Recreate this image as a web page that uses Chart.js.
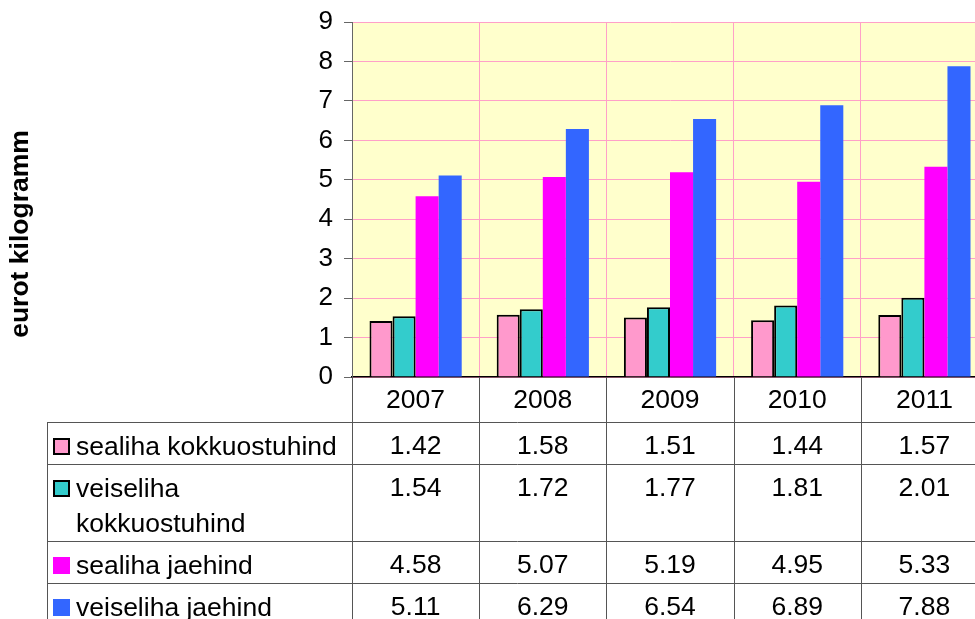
<!DOCTYPE html>
<html>
<head>
<meta charset="utf-8">
<script src="https://cdn.jsdelivr.net/npm/chart.js@4.4.1/dist/chart.umd.min.js"></script>
<style>
  html, body { margin: 0; padding: 0; background: #fff; overflow: hidden; }
  #wrap { width: 990px; height: 619px; }
</style>
</head>
<body>
<div id="wrap"><canvas id="c" width="990" height="619"></canvas></div>
<script>
// chart data
const years = ['2007', '2008', '2009', '2010', '2011'];
const seaOst = [1.42, 1.58, 1.51, 1.44, 1.57];
const veiseOst = [1.54, 1.72, 1.77, 1.81, 2.01];
const seaJae = [4.58, 5.07, 5.19, 4.95, 5.33];
const veiseJae = [5.11, 6.29, 6.54, 6.89, 7.88];
const seriesNames = ['sealiha kokkuostuhind', 'veiseliha kokkuostuhind', 'sealiha jaehind', 'veiseliha jaehind'];
const yTitle = 'eurot kilogramm';

const FONT = '"Liberation Sans", Arial, sans-serif';
const PINK_GRID = '#FFA0C8';
const LINE = '#555555';

function wrapText(ctx, text, maxW) {
    const words = text.split(' ');
    const lines = [];
    let cur = '';
    words.forEach(w => {
        const test = cur ? cur + ' ' + w : w;
        if (cur && ctx.measureText(test).width > maxW) {
            lines.push(cur);
            cur = w;
        } else {
            cur = test;
        }
    });
    if (cur) lines.push(cur);
    return lines;
}

// plot background + data table + axis title
const tablePlugin = {
    id: 'dataTable',
    beforeDraw(chart) {
        const a = chart.chartArea;
        const ctx = chart.ctx;
        ctx.save();
        ctx.fillStyle = '#FFFFCC';
        ctx.fillRect(a.left, a.top, a.right - a.left, a.bottom - a.top);
        ctx.restore();
    },
    afterDraw(chart) {
        const ctx = chart.ctx;
        const x = chart.scales.x;
        const a = chart.chartArea;
        const n = chart.data.labels.length;
        const colW = (a.right - a.left) / n;
        const tableLeft = 47;
        const headTop = a.bottom;
        const headBottom = headTop + 45;

        ctx.save();
        ctx.font = '26.5px ' + FONT;
        ctx.fillStyle = '#000';

        // header row with years
        ctx.textAlign = 'center';
        ctx.textBaseline = 'alphabetic';
        chart.data.labels.forEach((lab, i) => {
            ctx.fillText(lab, x.getPixelForValue(i), headTop + 31);
        });

        // rows
        let top = headBottom;
        const rowTops = [top];
        chart.data.datasets.forEach(ds => {
            ctx.textAlign = 'left';
            const lines = wrapText(ctx, ds.label, a.left - 76 - 4);
            const h = 33 + (lines.length - 1) * 35 + 9;
            const base = top + 33;
            // legend key
            ctx.fillStyle = ds.backgroundColor;
            ctx.fillRect(53, base - 17, 17, 17);
            if (ds.borderWidth) {
                ctx.strokeStyle = '#000';
                ctx.lineWidth = 2;
                ctx.strokeRect(54, base - 16, 15, 15);
            }
            ctx.fillStyle = '#000';
            lines.forEach((ln, k) => ctx.fillText(ln, 76, base + k * 35));
            // values
            ctx.textAlign = 'center';
            ds.data.forEach((v, i) => {
                ctx.fillText(v.toFixed(2), x.getPixelForValue(i), base - 1);
            });
            top += h;
            rowTops.push(top);
        });

        // grid lines of the table
        ctx.strokeStyle = LINE;
        ctx.lineWidth = 1;
        ctx.beginPath();
        rowTops.forEach(yy => {
            ctx.moveTo(tableLeft, Math.round(yy) + 0.5);
            ctx.lineTo(a.right, Math.round(yy) + 0.5);
        });
        ctx.moveTo(tableLeft + 0.5, headBottom);
        ctx.lineTo(tableLeft + 0.5, chart.height);
        for (let i = 0; i <= n; i++) {
            const xx = Math.round(a.left + i * colW) + 0.5;
            ctx.moveTo(xx, headTop);
            ctx.lineTo(xx, chart.height);
        }
        ctx.stroke();

        // y axis title
        ctx.font = 'bold 26.5px ' + FONT;
        ctx.textAlign = 'center';
        ctx.textBaseline = 'middle';
        ctx.translate(21, 234);
        ctx.rotate(-Math.PI / 2);
        ctx.fillText(yTitle, 0, 0);
        ctx.restore();
    }
};

new Chart(document.getElementById('c'), {
    type: 'bar',
    data: {
        labels: years,
        datasets: [
            { label: seriesNames[0], data: seaOst, backgroundColor: '#FF99CC', borderColor: '#000', borderWidth: 2 },
            { label: seriesNames[1], data: veiseOst, backgroundColor: '#33CCCC', borderColor: '#000', borderWidth: 2 },
            { label: seriesNames[2], data: seaJae, backgroundColor: '#FF00FF', borderWidth: 0 },
            { label: seriesNames[3], data: veiseJae, backgroundColor: '#3366FF', borderWidth: 0 }
        ]
    },
    options: {
        responsive: false,
        animation: false,
        devicePixelRatio: 1,
        categoryPercentage: 0.725,
        barPercentage: 1,
        layout: { padding: { top: 22, right: 2, bottom: 242, left: 0 } },
        scales: {
            x: {
                grid: { color: PINK_GRID, lineWidth: 1, offset: true, drawTicks: false },
                border: { color: '#000', width: 1.5 },
                ticks: { display: false },
                afterFit: s => { s.height = 0; s.paddingLeft = 0; s.paddingRight = 0; }
            },
            y: {
                min: 0,
                max: 9,
                ticks: {
                    stepSize: 1,
                    padding: 11,
                    color: '#000',
                    font: { family: FONT, size: 26 }
                },
                grid: { color: PINK_GRID, lineWidth: 1, tickLength: 8, tickColor: '#666' },
                border: { color: '#666', width: 1 },
                afterFit: s => { s.width = 352; s.paddingTop = 0; s.paddingBottom = 0; }
            }
        },
        plugins: {
            legend: { display: false },
            tooltip: { enabled: false }
        }
    },
    plugins: [tablePlugin]
});
</script>
</body>
</html>
